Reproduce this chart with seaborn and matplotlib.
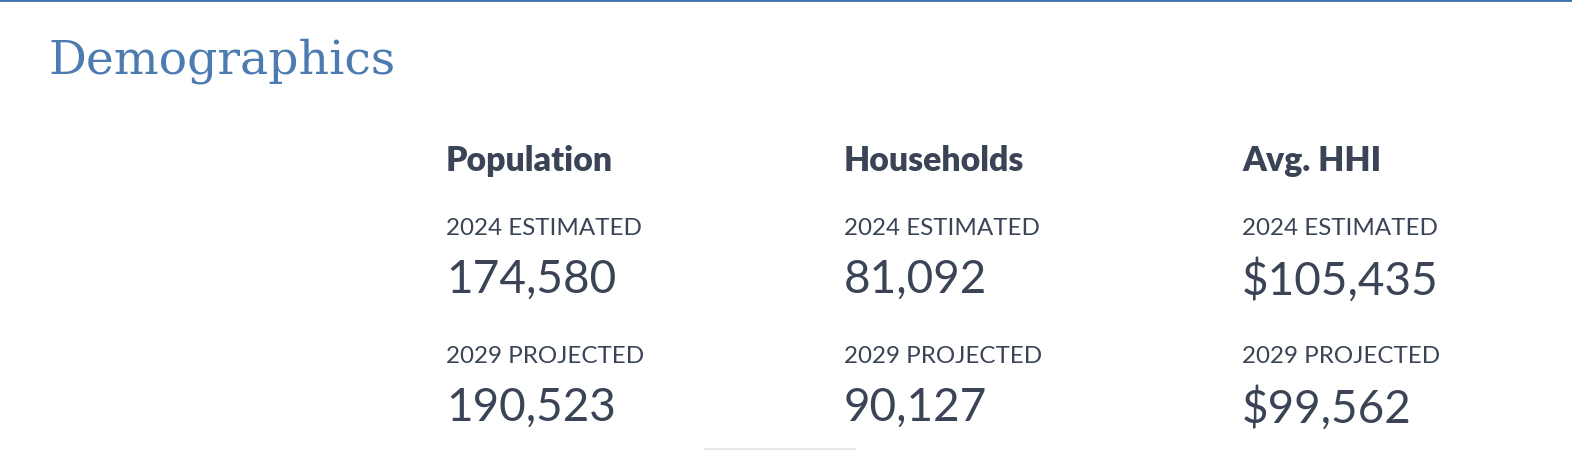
import matplotlib
matplotlib.use("Agg")
import matplotlib.pyplot as plt
import seaborn as sns

title = "Demographics"
categories = ["Population", "Households", "Avg. HHI"]
label_2024 = "2024 ESTIMATED"
label_2029 = "2029 PROJECTED"
values_2024 = ["174,580", "81,092", "$105,435"]
values_2029 = ["190,523", "90,127", "$99,562"]

sns.set_theme(style="white")
plt.rcParams["font.family"] = ["Lato", "DejaVu Sans"]

W, H = 1572, 452
fig = plt.figure(figsize=(W / 100, H / 100), dpi=100)
ax = fig.add_axes([0, 0, 1, 1])
ax.set_xlim(0, W)
ax.set_ylim(H, 0)
ax.axis("off")

blue = "#3d72aa"
dark = "#3a4456"

# top rule
ax.axhline(1, color=blue, lw=2)
ax.text(48, 61, title, fontsize=34, color="#4b7bb0", family=["DejaVu Serif"],
        va="center", ha="left")

x0, dx = 446, 398
for i, cat in enumerate(categories):
    x = x0 + i * dx
    ax.text(x, 161, cat, fontsize=24.3, fontweight="heavy", color=dark, va="center", ha="left")
    ax.text(x, 229, label_2024, fontsize=17.4, color=dark, va="center", ha="left")
    ax.text(x, 280, values_2024[i], fontsize=33, color=dark, va="center", ha="left")
    ax.text(x, 357, label_2029, fontsize=17.4, color=dark, va="center", ha="left")
    ax.text(x, 408, values_2029[i], fontsize=33, color=dark, va="center", ha="left")

ax.plot([705, 855], [450, 450], color="#e6e6e6", lw=1.5)

fig.savefig("out.png", dpi=100, facecolor="white")
